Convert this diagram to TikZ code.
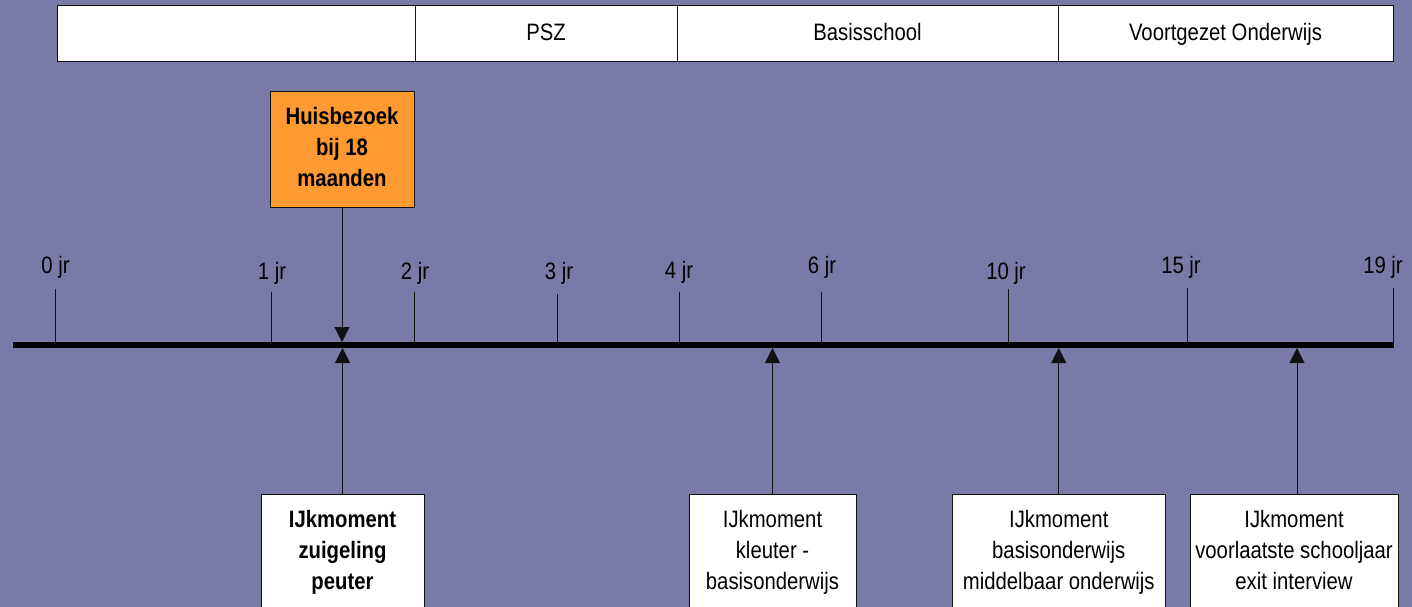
\documentclass[tikz,border=0pt]{standalone}
\usepackage{fontspec}
\setmainfont{Liberation Sans}
\usetikzlibrary{arrows.meta}
\definecolor{bg}{HTML}{7A7AA8}
\definecolor{orng}{HTML}{FF9A33}
\definecolor{edge}{HTML}{111111}
\newcommand{\vst}[1]{\scalebox{1}[1.17]{\begin{tabular}{@{}c@{}}#1\end{tabular}}}
\newcommand{\vsb}[1]{\scalebox{1}[1.17]{\bfseries\begin{tabular}{@{}c@{}}#1\end{tabular}}}
\tikzset{
  cell/.style={draw=edge, fill=white, line width=1pt, minimum height=56pt, inner sep=0pt},
  obox/.style={draw=edge, fill=orng, line width=1pt, minimum width=144pt, minimum height=115pt, inner sep=0pt},
  wbox/.style={draw=edge, fill=white, line width=1pt, minimum height=116pt, inner sep=0pt},
  yrlabel/.style={inner sep=0pt},
  tick/.style={draw=edge, line width=0.9pt},
  timeline/.style={draw=black, line width=6pt},
  arr/.style={draw=edge, line width=0.9pt, -{Triangle[width=15pt,length=15pt]}},
}
\begin{document}
\begin{tikzpicture}[x=1pt,y=-1pt, font=\fontsize{20.3}{26.5}\selectfont]
\useasboundingbox (0,0) rectangle (1412,607);
\clip (0,0) rectangle (1412,607);
\fill[bg] (0,0) rectangle (1412,607);

% top band
\node[cell, minimum width=358pt] (c0) at (236,34) {};
\node[cell, minimum width=262pt] (c1) at (546,34) {\vst{PSZ}};
\node[cell, minimum width=381pt] (c2) at (867.5,34) {\vst{Basisschool}};
\node[cell, minimum width=335pt] (c3) at (1225.5,34) {\vst{Voortgezet Onderwijs}};

% timeline
\coordinate (tl) at (13,345);
\coordinate (tr) at (1394,345);
\draw[timeline] (tl) -- (tr);

% ticks
\draw[tick] (55.5,343) -- (55.5,289);
\draw[tick] (271,343) -- (271,292);
\draw[tick] (414,343) -- (414,292);
\draw[tick] (557,343) -- (557,294);
\draw[tick] (679,343) -- (679,292);
\draw[tick] (821,343) -- (821,292);
\draw[tick] (1008,343) -- (1008,289);
\draw[tick] (1187,343) -- (1187,288);
\draw[tick] (1393,343) -- (1393,288);

% year labels
\node[yrlabel] (y0) at (55.5,267) {\vst{0 jr}};
\node[yrlabel] (y1) at (272,273) {\vst{1 jr}};
\node[yrlabel] (y2) at (415,273) {\vst{2 jr}};
\node[yrlabel] (y3) at (559,273) {\vst{3 jr}};
\node[yrlabel] (y4) at (679,272) {\vst{4 jr}};
\node[yrlabel] (y6) at (822,267) {\vst{6 jr}};
\node[yrlabel] (y10) at (1006,273) {\vst{10 jr}};
\node[yrlabel] (y15) at (1181,267) {\vst{15 jr}};
\node[yrlabel] (y19) at (1383,267) {\vst{19 jr}};

% orange box
\node[obox] (hb) at (342,149.5) {\vsb{Huisbezoek\\ bij 18\\ maanden}};
\coordinate (ta) at (342,342);
\draw[arr] (hb.south) -- (ta);

% bottom boxes
\node[wbox, minimum width=163pt] (b1) at (342.5,552) {\vsb{IJkmoment\\ zuigeling\\ peuter}};
\node[wbox, minimum width=167pt] (b2) at (772.5,552) {\vst{IJkmoment\\ kleuter -\\ basisonderwijs}};
\node[wbox, minimum width=213.5pt] (b3) at (1058.75,552) {\vst{IJkmoment\\ basisonderwijs\\ middelbaar onderwijs}};
\node[wbox, minimum width=208pt] (b4) at (1294,552) {\vst{IJkmoment\\ voorlaatste schooljaar\\ exit interview}};

\coordinate (t1) at (342.5,348);
\coordinate (t2) at (772.5,348);
\coordinate (t3) at (1058.75,348);
\coordinate (t4) at (1297,348);
\draw[arr] (b1.north) -- (t1);
\draw[arr] (b2.north) -- (t2);
\draw[arr] (b3.north) -- (t3);
\draw[arr] (b4.north -| t4) -- (t4);
\end{tikzpicture}
\end{document}
